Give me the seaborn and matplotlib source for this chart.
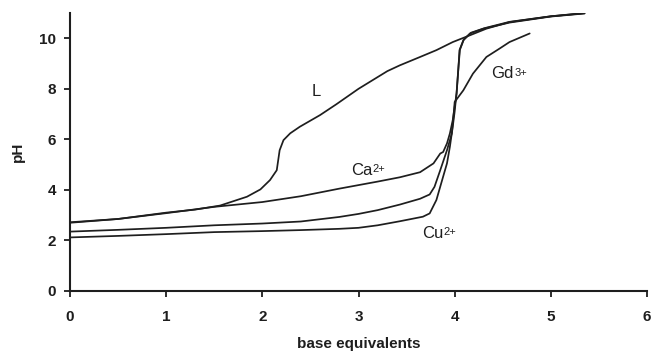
import matplotlib
matplotlib.use("Agg")
import matplotlib.pyplot as plt
import numpy as np
import pandas as pd
import seaborn as sns

# Titration curves: pH versus equivalents of added base
L_x = [0, 0.5, 1.0, 1.3, 1.56, 1.84, 1.98, 2.08, 2.15, 2.18, 2.22, 2.29, 2.39, 2.6, 2.77,
       3.0, 3.3, 3.43, 3.64, 3.81, 3.98, 4.16, 4.33, 4.57, 5.0, 5.35]
L_ph = [2.7, 2.85, 3.1, 3.22, 3.38, 3.73, 4.02, 4.39, 4.78, 5.57, 5.97, 6.24, 6.5, 6.96, 7.39,
        8.0, 8.7, 8.93, 9.26, 9.53, 9.85, 10.12, 10.38, 10.64, 10.87, 11.0]

Ca_x = [0, 0.5, 1.0, 1.5, 2.0, 2.4, 2.8, 3.2, 3.43, 3.64, 3.78, 3.85, 3.88, 3.92, 3.95,
        3.98, 4.0, 4.02, 4.04, 4.05, 4.09, 4.16, 4.3, 4.57, 5.0, 5.35]
Ca_ph = [2.72, 2.85, 3.08, 3.33, 3.52, 3.75, 4.05, 4.33, 4.5, 4.7, 5.05, 5.44, 5.5, 5.84, 6.23,
         6.76, 7.3, 7.81, 8.87, 9.53, 9.92, 10.19, 10.38, 10.62, 10.86, 10.98]

Gd_x = [0, 0.5, 1.0, 1.5, 2.0, 2.4, 2.8, 3.0, 3.2, 3.43, 3.64, 3.74, 3.79, 3.85, 3.92,
        3.97, 3.99, 4.0, 4.09, 4.19, 4.33, 4.47, 4.57, 4.78]
Gd_ph = [2.35, 2.42, 2.5, 2.6, 2.67, 2.75, 2.93, 3.05, 3.2, 3.42, 3.65, 3.82, 4.12, 4.78, 5.57,
         6.23, 7.0, 7.48, 7.94, 8.6, 9.26, 9.6, 9.85, 10.19]

Cu_x = [0, 0.5, 1.0, 1.5, 2.0, 2.4, 2.8, 3.0, 3.2, 3.43, 3.67, 3.74, 3.81, 3.86, 3.92,
        3.95, 3.98, 4.0, 4.02, 4.04, 4.055, 4.095, 4.17, 4.31, 4.57, 5.0, 5.35]
Cu_ph = [2.12, 2.18, 2.25, 2.33, 2.37, 2.41, 2.46, 2.5, 2.6, 2.76, 2.94, 3.07, 3.6, 4.26, 5.05,
         5.7, 6.5, 7.1, 7.85, 8.9, 9.55, 9.95, 10.22, 10.4, 10.65, 10.87, 10.99]

x_ticks = [0, 1, 2, 3, 4, 5, 6]
y_ticks = [0, 2, 4, 6, 8, 10]

frames = []
for name, xs, ys in [("L", L_x, L_ph), ("Ca", Ca_x, Ca_ph), ("Gd", Gd_x, Gd_ph), ("Cu", Cu_x, Cu_ph)]:
    frames.append(pd.DataFrame({"eq": xs, "pH": ys, "curve": name}))
df = pd.concat(frames, ignore_index=True)

sns.set_style("ticks")
plt.rcParams["font.family"] = ["Liberation Sans", "DejaVu Sans"]

ink = "#1e1e1e"
fig = plt.figure(figsize=(6.52, 3.57), dpi=100)
ax = fig.add_axes([70 / 652, 1 - 291 / 357, 577 / 652, 278 / 357])

sns.lineplot(data=df, x="eq", y="pH", units="curve", estimator=None, sort=False,
             color=ink, linewidth=1.25, ax=ax)

ax.set_xlim(0, 6)
ax.set_ylim(0, 11)
ax.set_xticks(x_ticks)
ax.set_yticks(y_ticks)
for s in ["top", "right"]:
    ax.spines[s].set_visible(False)
for s in ["left", "bottom"]:
    ax.spines[s].set_linewidth(1.5)
    ax.spines[s].set_color(ink)
ax.tick_params(axis="both", length=4, width=1.3, color=ink, labelcolor=ink, labelsize=11)
ax.tick_params(axis="x", pad=10)
ax.tick_params(axis="y", pad=6)
for lab in ax.get_xticklabels() + ax.get_yticklabels():
    lab.set_fontweight("bold")

ax.set_xlabel("base equivalents", fontsize=11, fontweight="bold", color=ink, labelpad=9)
ax.set_ylabel("pH", fontsize=11, fontweight="bold", color=ink, labelpad=10)


def ion_label(x, y, base, charge):
    """Curve label with a small raised charge after it."""
    t = ax.text(x, y, base, fontsize=12, color=ink, ha="left", va="center")
    if charge:
        ax.annotate(charge, xy=(1.0, 0.9), xycoords=t, fontsize=8, color=ink,
                    ha="left", va="top", xytext=(0.4, 0), textcoords="offset points")


ion_label(2.51, 7.9, "L", "")
ion_label(2.92, 4.78, "Ca", "2+")
ion_label(3.66, 2.29, "Cu", "2+")
ion_label(4.38, 8.6, "Gd", "3+")

fig.savefig("out.png", dpi=100)
